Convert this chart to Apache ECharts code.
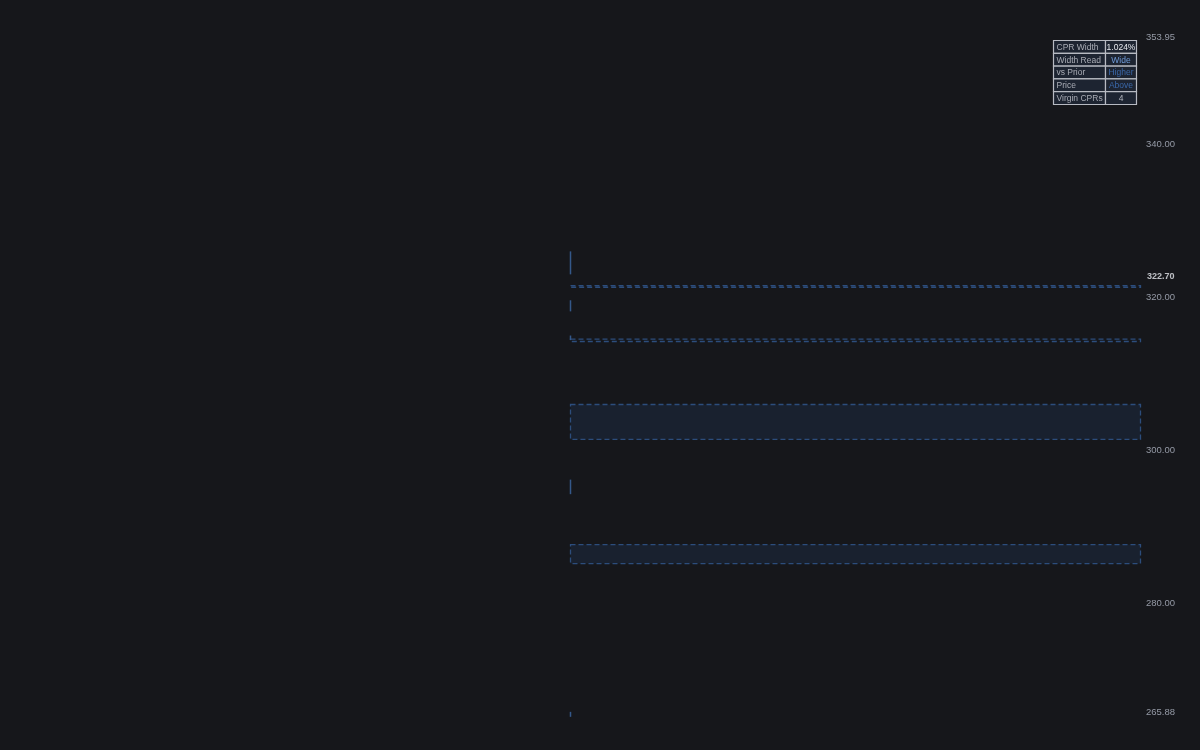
<!DOCTYPE html>
<html><head><meta charset="utf-8">
<script src="https://cdn.jsdelivr.net/npm/echarts@6/dist/echarts.min.js"></script>
<style>html,body{margin:0;padding:0;background:#16171b;}#c{width:1200px;height:750px;}</style>
</head><body><div id="c"></div>
<script>
// CPR bands: [top, bottom]
const bandTops = [321.52, 314.52, 306.0, 287.73];
const bandBottoms = [321.30, 314.22, 301.44, 285.25];
const bandFilled = [false, false, true, true];
// vertical wick segments at the session start: [high, low]
const wickHighs = [325.98, 319.6, 315.0, 296.2, 265.9];
const wickLows = [322.98, 318.15, 314.4, 294.3, 265.25];
// axis
const yMin = 265.88, yMax = 353.95;
const yTicks = [265.88, 280, 300, 320, 340, 353.95];
const lastPrice = 322.70;
// table
const tableLabels = ['CPR Width', 'Width Read', 'vs Prior', 'Price', 'Virgin CPRs'];
const tableValues = ['1.024%', 'Wide', 'Higher', 'Above', '4'];
const tableValueColors = ['#e6e8ee', '#6f9ad8', '#3a67a8', '#3a67a8', '#b2b5be'];

const sessionStart = 1, sessionEnd = 2;
const lineColor = '#2c4d7c';

const chart = echarts.init(document.getElementById('c'), null, {renderer: 'canvas'});

const bandData = bandTops.map((t, i) => [sessionStart, sessionEnd, t, bandBottoms[i], bandFilled[i] ? 1 : 0]);
const wickData = wickHighs.map((h, i) => [sessionStart, h, wickLows[i]]);

const graphics = [];
const tx = 1053, ty = 40, c1w = 52, c2w = 31, rh = 12.8;
tableLabels.forEach((lab, i) => {
  const y = ty + i * rh;
  graphics.push({type: 'rect', shape: {x: tx + 0.5, y: y + 0.5, width: c1w, height: rh},
    style: {fill: '#1d2431', stroke: '#b7bac2', lineWidth: 1.2}});
  graphics.push({type: 'rect', shape: {x: tx + c1w + 0.5, y: y + 0.5, width: c2w, height: rh},
    style: {fill: '#1d2431', stroke: '#b7bac2', lineWidth: 1.2}});
  graphics.push({type: 'text', x: tx + 3.5, y: y + rh / 2 + 1,
    style: {text: lab, fill: '#a9acb5', font: '8.5px "Liberation Sans", Arial, sans-serif', verticalAlign: 'middle', align: 'left'}});
  graphics.push({type: 'text', x: tx + c1w + c2w / 2 + 0.5, y: y + rh / 2 + 1,
    style: {text: tableValues[i], fill: tableValueColors[i], font: '8.5px "Liberation Sans", Arial, sans-serif', verticalAlign: 'middle', align: 'center'}});
});

chart.setOption({
  backgroundColor: '#16171b',
  animation: false,
  grid: {left: 0, right: 60, top: 37, bottom: 38},
  xAxis: {type: 'value', min: 0, max: sessionEnd, show: false},
  yAxis: {
    type: 'value', position: 'right', min: yMin, max: yMax, scale: true,
    splitLine: {show: false}, axisLine: {show: false}, axisTick: {show: false},
    axisLabel: {customValues: yTicks, formatter: v => v.toFixed(2), color: '#959aa6', fontSize: 9.5,
      fontFamily: '"Liberation Sans", Arial, sans-serif', margin: 6, showMinLabel: true, showMaxLabel: true}
  },
  graphic: graphics,
  series: [
    {
      type: 'custom', data: bandData, clip: false,
      renderItem: (params, api) => {
        const p1 = api.coord([api.value(0), api.value(2)]);
        const p2 = api.coord([api.value(1), api.value(3)]);
        const filled = api.value(4) === 1;
        return {type: 'rect', shape: {x: p1[0] + 0.5, y: p1[1], width: p2[0] - p1[0], height: Math.max(1.5, p2[1] - p1[1])},
          style: {fill: filled ? 'rgba(35,55,90,0.32)' : 'none', stroke: lineColor, lineWidth: 1.3, lineDash: [5, 3]}};
      }
    },
    {
      type: 'custom', data: wickData, clip: false,
      renderItem: (params, api) => {
        const a = api.coord([api.value(0), api.value(1)]);
        const b = api.coord([api.value(0), api.value(2)]);
        return {type: 'line', shape: {x1: a[0] + 0.5, y1: a[1], x2: b[0] + 0.5, y2: b[1]},
          style: {stroke: '#34588a', lineWidth: 1.5}};
      }
    },
    {
      type: 'scatter', data: [[sessionEnd, lastPrice]], symbolSize: 0, silent: true, clip: false,
      label: {show: true, position: 'right', distance: 7, formatter: () => lastPrice.toFixed(2), color: '#e6e8ee', fontWeight: 'bold', fontSize: 9,
        fontFamily: '"Liberation Sans", Arial, sans-serif'}
    }
  ]
});
</script></body></html>
